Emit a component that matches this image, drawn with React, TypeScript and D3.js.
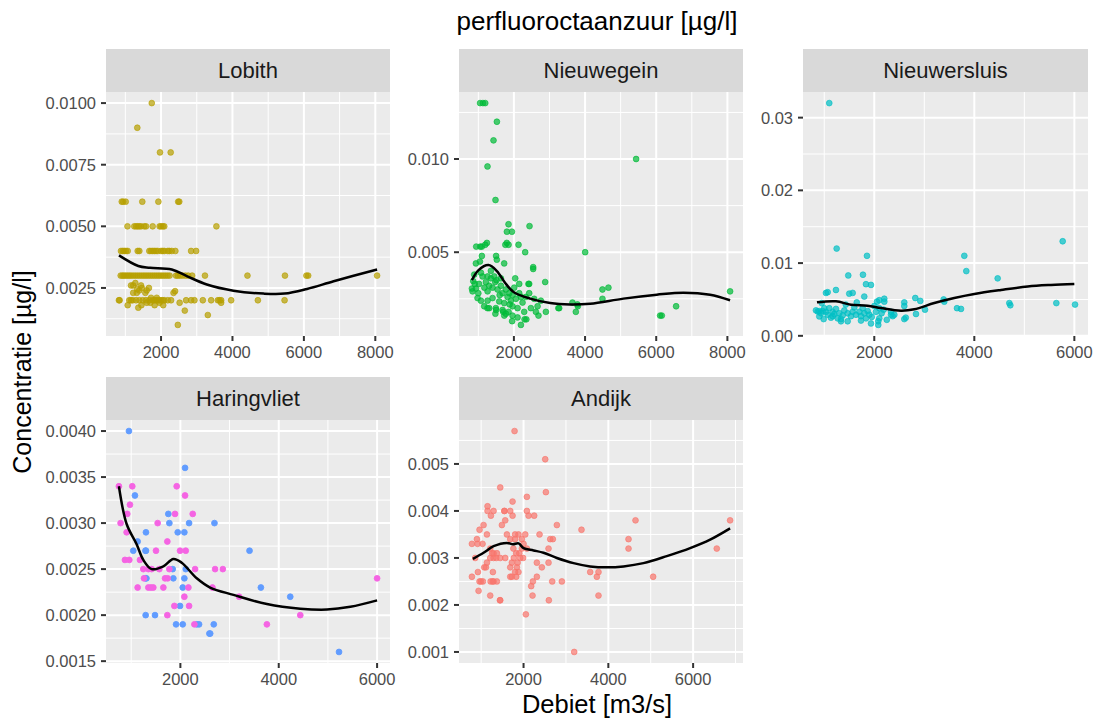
import React from 'react';
import * as d3 from 'd3';

const W = 1094;
const H = 720;
const FONT = '"Liberation Sans", Arial, Helvetica, sans-serif';

const chartTitle = 'perfluoroctaanzuur [µg/l]';
const xAxisTitle = 'Debiet [m3/s]';
const yAxisTitle = 'Concentratie [µg/l]';

const stationNames = ['Lobith', 'Nieuwegein', 'Nieuwersluis', 'Haringvliet', 'Andijk'];

// ---------- data: [debiet m3/s, concentratie µg/l] ----------
const lobithPoints: [number, number][] = [
  [1740, 0.010], [1335, 0.009], [1970, 0.008], [2270, 0.008],
  [900, 0.006], [940, 0.006], [1010, 0.006], [1475, 0.006], [1925, 0.006], [2480, 0.006], [2510, 0.006],
  [1060, 0.005], [1250, 0.005], [1300, 0.005], [1345, 0.005], [1390, 0.005], [1440, 0.005], [1530, 0.005],
  [1580, 0.005], [1765, 0.005], [1960, 0.005], [2000, 0.005], [2050, 0.005], [2090, 0.005], [3550, 0.005],
  [878, 0.004], [926, 0.004], [971, 0.004], [1018, 0.004], [1066, 0.004], [1346, 0.004], [1392, 0.004],
  [1672, 0.004], [1719, 0.004], [1767, 0.004], [1813, 0.004], [1860, 0.004], [1908, 0.004], [2000, 0.004],
  [2047, 0.004], [2093, 0.004], [2188, 0.004], [2233, 0.004], [2300, 0.004], [2401, 0.004], [2842, 0.004], [2982, 0.004],
  [870, 0.003], [920, 0.003], [960, 0.003], [1010, 0.003], [1060, 0.003], [1110, 0.003], [1160, 0.003],
  [1220, 0.003], [1280, 0.003], [1340, 0.003], [1400, 0.003], [1460, 0.003], [1520, 0.003], [1580, 0.003],
  [1640, 0.003], [1700, 0.003], [1760, 0.003], [1820, 0.003], [1880, 0.003], [1940, 0.003], [2000, 0.003],
  [2060, 0.003], [2120, 0.003], [2180, 0.003], [2240, 0.003], [2420, 0.003], [2470, 0.003], [2530, 0.003],
  [2600, 0.003], [2680, 0.003], [2760, 0.003], [2870, 0.003], [3230, 0.003], [4420, 0.003], [5470, 0.003],
  [6070, 0.003], [6120, 0.003], [8050, 0.003],
  [1160, 0.0026], [1220, 0.0026], [1280, 0.0027], [1335, 0.00245], [1390, 0.0024], [1440, 0.0026],
  [1460, 0.0025], [1560, 0.0023], [1600, 0.0024], [1660, 0.0025], [1220, 0.0023], [1320, 0.0023],
  [820, 0.002], [840, 0.002], [1111, 0.002], [1158, 0.002], [1206, 0.002], [1299, 0.002], [1392, 0.002],
  [1487, 0.002], [1579, 0.002], [1672, 0.002], [1767, 0.002], [1813, 0.002], [1860, 0.002], [1908, 0.002],
  [1952, 0.002], [2000, 0.002], [2047, 0.002], [2093, 0.002], [2188, 0.002], [2281, 0.002], [2702, 0.002],
  [2842, 0.002], [2935, 0.002], [3170, 0.002], [3403, 0.002], [3591, 0.002], [3637, 0.002], [3683, 0.002],
  [3963, 0.002], [4712, 0.002], [5459, 0.002],
  [1066, 0.0018], [1363, 0.0017], [1450, 0.0018], [1600, 0.0019], [1700, 0.0019], [1820, 0.0018],
  [1960, 0.0019], [2060, 0.0018], [2393, 0.00237], [2350, 0.0023], [2520, 0.0019], [2665, 0.00158],
  [3310, 0.0014], [2470, 0.001], [3683, 0.0019], [1720, 0.0021], [1880, 0.0021],
];
const lobithSmooth: [number, number][] = [
  [822, 0.00382], [1363, 0.00339], [1691, 0.00332], [2300, 0.00325], [2721, 0.00298], [3282, 0.00264],
  [4028, 0.00239], [4870, 0.00227], [5459, 0.00227], [6087, 0.00246], [6833, 0.00277], [8050, 0.00325],
];

const nieuwegeinPoints: [number, number][] = [
  [1050, 0.013], [1130, 0.013], [1195, 0.013], [1522, 0.012], [1427, 0.011], [1258, 0.0096], [1483, 0.0078],
  [5435, 0.010], [4003, 0.005], [8076, 0.0029], [6110, 0.0016], [6157, 0.0016], [6559, 0.0021],
  [4489, 0.003], [4657, 0.0031], [4489, 0.0025], [3646, 0.0023], [3797, 0.0021], [3741, 0.0018],
  [2879, 0.0034], [2439, 0.0064], [2317, 0.005], [2130, 0.0054], [1849, 0.0065], [1944, 0.0061],
  [1803, 0.0061], [1760, 0.0054], [1800, 0.0055], [1850, 0.0054], [1242, 0.0055], [1194, 0.0054],
  [941, 0.0053], [1053, 0.0053], [1100, 0.0053], [1500, 0.0048], [1520, 0.0046], [1100, 0.0048],
  [932, 0.0044], [1045, 0.0045], [1727, 0.0044], [2542, 0.0042], [2542, 0.0041], [2410, 0.0033],
  [2430, 0.0033], [2037, 0.0036], [2150, 0.0033], [3273, 0.0020], [3250, 0.0020], [3786, 0.0022],
  [2618, 0.0018], [2691, 0.0016], [2899, 0.0018], [2197, 0.0011], [1950, 0.0013], [2300, 0.0014],
  [2350, 0.0014], [1500, 0.0019], [1480, 0.0017], [1730, 0.0016], [1700, 0.0018], [1258, 0.0020],
  [885, 0.0038], [857, 0.00345], [820, 0.00305], [932, 0.00305], [838, 0.0029], [978, 0.00254],
  [1020, 0.0033], [1120, 0.0037], [1170, 0.0031], [1213, 0.0034], [1260, 0.0029], [1306, 0.0032],
  [1353, 0.0036], [1400, 0.0031], [1400, 0.00254], [1475, 0.0034], [1541, 0.003], [1588, 0.00236],
  [1635, 0.0032], [1682, 0.0028], [1729, 0.00227], [1775, 0.003], [1822, 0.0026], [1869, 0.0028],
  [1916, 0.0024], [1962, 0.0027], [1962, 0.0021], [2009, 0.0031], [2056, 0.0025], [2103, 0.002],
  [2150, 0.0028], [2243, 0.0023], [2290, 0.0018], [2337, 0.0026], [2430, 0.0028], [2477, 0.002],
  [2571, 0.0025], [2665, 0.0021], [2758, 0.0024], [1073, 0.0024], [1166, 0.0021], [1260, 0.0024],
  [1493, 0.002], [1306, 0.002], [1850, 0.0018], [1682, 0.0019], [1962, 0.0016], [1775, 0.0017],
  [2103, 0.0015], [1353, 0.004], [1447, 0.0037], [1260, 0.0037], [1073, 0.0039], [1510, 0.0035],
  [1635, 0.0036], [900, 0.0033], [1000, 0.0028], [1880, 0.0022], [2200, 0.0026], [1600, 0.0027],
];
const nieuwegeinSmooth: [number, number][] = [
  [820, 0.0035], [1006, 0.00404], [1287, 0.00431], [1522, 0.00399], [1756, 0.00335], [1990, 0.00287],
  [2458, 0.00251], [3020, 0.00227], [3581, 0.0022], [4143, 0.00224], [5079, 0.00251], [6017, 0.00272],
  [6764, 0.00283], [7514, 0.00272], [8076, 0.00242],
];

const nieuwersluisPoints: [number, number][] = [
  [1100, 0.032], [1248, 0.012], [1854, 0.011], [3800, 0.011], [3840, 0.0089], [5767, 0.013], [4467, 0.0079],
  [1480, 0.0083], [1774, 0.0084], [1834, 0.0071], [1934, 0.007], [4700, 0.0045], [4720, 0.0042],
  [5640, 0.0045], [6014, 0.0043], [3654, 0.0038], [3734, 0.0037], [3387, 0.005], [3400, 0.0047],
  [2820, 0.0052], [2920, 0.0048], [3014, 0.0036], [2834, 0.003], [2600, 0.0046], [2600, 0.0041],
  [2600, 0.0023], [2630, 0.0025], [2334, 0.0029], [2368, 0.0027], [2100, 0.0024], [2080, 0.002],
  [2080, 0.0015], [2200, 0.0051], [2100, 0.0049], [2054, 0.0047], [1034, 0.0059], [1068, 0.006],
  [1234, 0.0063], [1500, 0.0058], [1568, 0.0059], [1800, 0.0054], [1468, 0.002], [1334, 0.0023],
  [1168, 0.0027], [988, 0.0023], [900, 0.0034], [834, 0.0035], [868, 0.00336], [901, 0.00267],
  [934, 0.0031], [968, 0.0034], [1000, 0.0038], [1034, 0.0033], [1068, 0.0029], [1101, 0.0038],
  [1134, 0.0025], [1168, 0.0033], [1200, 0.003], [1234, 0.0037], [1268, 0.0024], [1301, 0.0031],
  [1368, 0.0028], [1401, 0.0035], [1468, 0.0031], [1534, 0.0027], [1568, 0.0033], [1601, 0.0039],
  [1634, 0.0029], [1701, 0.0033], [1734, 0.0027], [1768, 0.0038], [1801, 0.0031], [1834, 0.0024],
  [1868, 0.0034], [1901, 0.0029], [2001, 0.0041], [2034, 0.0033], [2101, 0.0038], [2147, 0.0031],
  [2187, 0.0036], [2334, 0.0033], [2401, 0.0029], [1734, 0.0021], [1934, 0.0017], [1334, 0.002],
  [2201, 0.0047], [1950, 0.0026], [2250, 0.0022], [1430, 0.0043], [1650, 0.0046], [950, 0.0045],
];
const nieuwersluisSmooth: [number, number][] = [
  [854, 0.0046], [1234, 0.00474], [1534, 0.00428], [1866, 0.00415], [2134, 0.00382], [2534, 0.00345],
  [2800, 0.00364], [3200, 0.00451], [3600, 0.0052], [4000, 0.00575], [4534, 0.0063], [5068, 0.00678],
  [5534, 0.007], [6000, 0.00714],
];

const haringvlietBluePoints: [number, number][] = [
  [954, 0.004], [2095, 0.0036], [1076, 0.0033], [1755, 0.0031], [1776, 0.003], [1946, 0.0029],
  [2081, 0.0029], [2177, 0.003], [2693, 0.003], [1300, 0.0029], [1131, 0.0028], [1042, 0.0027],
  [1290, 0.0027], [1300, 0.0027], [3406, 0.0027], [1290, 0.0024], [1310, 0.0024], [1844, 0.0025],
  [1857, 0.0024], [2081, 0.0024], [2109, 0.0025], [2048, 0.0023], [3637, 0.0023], [4234, 0.0022],
  [1993, 0.0021], [1294, 0.002], [1484, 0.002], [1912, 0.0019], [2048, 0.0019], [2333, 0.0019],
  [2380, 0.0019], [2679, 0.0019], [2590, 0.0018], [2606, 0.0018], [5226, 0.0016],
];
const haringvlietPinkPoints: [number, number][] = [
  [750, 0.0034], [1022, 0.0034], [975, 0.0032], [920, 0.0031], [784, 0.003], [907, 0.0029], [873, 0.0026],
  [961, 0.0026], [1178, 0.0026], [1131, 0.0023], [1246, 0.0025], [1348, 0.0025], [1416, 0.0025],
  [1348, 0.0023], [1400, 0.0023], [1450, 0.0023], [1260, 0.0024], [1504, 0.0027], [1538, 0.003],
  [1735, 0.0028], [1572, 0.0025], [1688, 0.0024], [1742, 0.0024], [1654, 0.0023], [1735, 0.002],
  [1776, 0.0025], [1891, 0.0031], [1925, 0.0034], [1993, 0.0027], [2109, 0.0027], [2095, 0.0033],
  [1878, 0.0021], [2081, 0.0022], [2163, 0.0023], [2177, 0.0021], [2251, 0.0031], [2299, 0.0025],
  [2285, 0.0019], [2652, 0.0023], [2706, 0.0025], [2863, 0.0025], [3195, 0.0022], [3759, 0.0019],
  [4438, 0.002], [6000, 0.0024],
];
const haringvlietSmooth: [number, number][] = [
  [750, 0.0034], [907, 0.00299], [1110, 0.00277], [1246, 0.0026], [1416, 0.0025], [1654, 0.00253],
  [1857, 0.00261], [2027, 0.00257], [2333, 0.0024], [2605, 0.0023], [3080, 0.00222], [3759, 0.00212],
  [4438, 0.00207], [4982, 0.00206], [5457, 0.00209], [6000, 0.00216],
];

const andijkPoints: [number, number][] = [
  [1788, 0.0057], [2511, 0.0051], [2527, 0.0044], [1450, 0.0045], [1741, 0.0042], [2079, 0.0043],
  [1151, 0.0041], [1151, 0.004], [1293, 0.004], [1230, 0.0039], [1552, 0.004], [1686, 0.004],
  [1741, 0.0039], [2079, 0.004], [2118, 0.0039], [2251, 0.0039], [1568, 0.0038], [1489, 0.0037],
  [1057, 0.0037], [962, 0.0036], [2786, 0.0037], [3367, 0.0036], [4641, 0.0038], [6872, 0.0038],
  [4476, 0.0034], [4476, 0.0032], [6558, 0.0032], [5057, 0.0026], [3572, 0.0027], [3729, 0.0026],
  [3768, 0.0027], [3768, 0.0022], [3195, 0.001], [2055, 0.0018], [1450, 0.0021], [2597, 0.0021],
  [2212, 0.0022], [1214, 0.0022], [939, 0.0023], [782, 0.0026], [923, 0.0027], [962, 0.0025],
  [1041, 0.0025], [1277, 0.0027], [1293, 0.0025], [1371, 0.0025], [1686, 0.0026], [1827, 0.0026],
  [2180, 0.0024], [2220, 0.0025], [2314, 0.0026], [2676, 0.0025], [2904, 0.0025], [2314, 0.0029],
  [2432, 0.0028], [2589, 0.0029], [2589, 0.0032], [2629, 0.0034], [2691, 0.0034], [2377, 0.0035],
  [1073, 0.0028], [1136, 0.0029], [860, 0.003], [782, 0.0033], [900, 0.0034], [915, 0.0033],
  [1033, 0.0033], [1136, 0.0035], [1214, 0.003], [1260, 0.0031], [1293, 0.003], [1356, 0.003],
  [1450, 0.003], [1568, 0.003], [1214, 0.0032], [1293, 0.0031], [1371, 0.0031], [1608, 0.0035],
  [1686, 0.0034], [1800, 0.0035], [1800, 0.0034], [1760, 0.0032], [1827, 0.0031], [1725, 0.0029],
  [1686, 0.0028], [1725, 0.0026], [1880, 0.0035], [1960, 0.0034], [2040, 0.0035], [1960, 0.0032],
  [1920, 0.003], [1860, 0.0029], [1843, 0.0028], [1880, 0.0027], [1800, 0.0027], [2000, 0.0033],
  [2079, 0.0032], [1770, 0.003], [1900, 0.0031], [1990, 0.003], [1113, 0.0028], [995, 0.0025],
  [1223, 0.0025], [1270, 0.0025], [1545, 0.004], [1443, 0.0021],
];
const andijkSmooth: [number, number][] = [
  [805, 0.00298], [1057, 0.00311], [1293, 0.00325], [1607, 0.00332], [1749, 0.00329], [1882, 0.00331],
  [2000, 0.00321], [2236, 0.00316], [2471, 0.00311], [2786, 0.003], [3179, 0.00289], [3572, 0.00282],
  [3965, 0.0028], [4358, 0.00282], [4829, 0.00289], [5380, 0.00304], [5930, 0.00321], [6401, 0.00339],
  [6872, 0.00363],
];

// tick values
const xTicksWide = [2000, 4000, 6000, 8000];
const xTicksNarrow = [2000, 4000, 6000];
const lobithYTicks = [0.0025, 0.005, 0.0075, 0.01];
const nieuwegeinYTicks = [0.005, 0.01];
const nieuwersluisYTicks = [0, 0.01, 0.02, 0.03];
const haringvlietYTicks = [0.0015, 0.002, 0.0025, 0.003, 0.0035, 0.004];
const andijkYTicks = [0.001, 0.002, 0.003, 0.004, 0.005];

const colors = {
  lobith: '#B79F00',
  nieuwegein: '#00BA38',
  nieuwersluis: '#00BFC4',
  haringBlue: '#619CFF',
  haringPink: '#F564E3',
  andijk: '#F8766D',
};

type Series = { pts: [number, number][]; color: string; alpha: number };
type PanelDef = {
  name: string;
  series: Series[];
  smooth: [number, number][];
  xTicks: number[];
  yTicks: number[];
  yFmt: (n: number) => string;
  left: number;
  right: number;
  stripTop: number;
  top: number;
  bottom: number;
};

const panels: PanelDef[] = [
  {
    name: stationNames[0], series: [{ pts: lobithPoints, color: colors.lobith, alpha: 0.7 }],
    smooth: lobithSmooth, xTicks: xTicksWide, yTicks: lobithYTicks, yFmt: d3.format('.4f'),
    left: 106, right: 390, stripTop: 49, top: 92, bottom: 336,
  },
  {
    name: stationNames[1], series: [{ pts: nieuwegeinPoints, color: colors.nieuwegein, alpha: 0.7 }],
    smooth: nieuwegeinSmooth, xTicks: xTicksWide, yTicks: nieuwegeinYTicks, yFmt: d3.format('.3f'),
    left: 459, right: 743, stripTop: 49, top: 92, bottom: 336,
  },
  {
    name: stationNames[2], series: [{ pts: nieuwersluisPoints, color: colors.nieuwersluis, alpha: 0.7 }],
    smooth: nieuwersluisSmooth, xTicks: xTicksNarrow, yTicks: nieuwersluisYTicks, yFmt: d3.format('.2f'),
    left: 803, right: 1088, stripTop: 49, top: 92, bottom: 336,
  },
  {
    name: stationNames[3],
    series: [
      { pts: haringvlietBluePoints, color: colors.haringBlue, alpha: 1 },
      { pts: haringvlietPinkPoints, color: colors.haringPink, alpha: 1 },
    ],
    smooth: haringvlietSmooth, xTicks: xTicksNarrow, yTicks: haringvlietYTicks, yFmt: d3.format('.4f'),
    left: 106, right: 390, stripTop: 377, top: 420, bottom: 663,
  },
  {
    name: stationNames[4], series: [{ pts: andijkPoints, color: colors.andijk, alpha: 0.7 }],
    smooth: andijkSmooth, xTicks: xTicksNarrow, yTicks: andijkYTicks, yFmt: d3.format('.3f'),
    left: 459, right: 743, stripTop: 377, top: 420, bottom: 663,
  },
];

function expand(ext: [number, number], f = 0.05): [number, number] {
  const d = ext[1] - ext[0];
  return [ext[0] - d * f, ext[1] + d * f];
}

function minorTicks(major: number[], domain: [number, number]): number[] {
  const step = major.length > 1 ? major[1] - major[0] : 1;
  const out: number[] = [];
  for (let i = -1; i < major.length; i++) {
    const v = major[0] + (i + 0.5) * step;
    if (v > domain[0] && v < domain[1]) out.push(v);
  }
  return out;
}

const Panel: React.FC<{ p: PanelDef }> = ({ p }) => {
  const all = p.series.flatMap((s) => s.pts);
  const xDom = expand(d3.extent(all, (d) => d[0]) as [number, number]);
  const yAll = [...all.map((d) => d[1]), ...p.smooth.map((d) => d[1])];
  const yDom = expand(d3.extent(yAll) as [number, number]);
  const x = d3.scaleLinear().domain(xDom).range([p.left, p.right]);
  const y = d3.scaleLinear().domain(yDom).range([p.bottom, p.top]);
  const xMinor = minorTicks(p.xTicks, xDom);
  const yMinor = minorTicks(p.yTicks, yDom);
  const line = d3
    .line<[number, number]>()
    .x((d) => x(d[0]))
    .y((d) => y(d[1]))
    .curve(d3.curveCatmullRom.alpha(0.5));
  const w = p.right - p.left;
  const tickLen = 5;
  return (
    <g>
      <rect x={p.left} y={p.stripTop} width={w} height={p.top - p.stripTop} fill="#D9D9D9" />
      <text
        x={(p.left + p.right) / 2}
        y={(p.stripTop + p.top) / 2 + 7.8}
        textAnchor="middle"
        fontSize={22}
        fill="#1A1A1A"
        fontFamily={FONT}
      >
        {p.name}
      </text>
      <rect x={p.left} y={p.top} width={w} height={p.bottom - p.top} fill="#EBEBEB" />
      {xMinor.map((v, i) => (
        <line key={'xm' + i} x1={x(v)} x2={x(v)} y1={p.top} y2={p.bottom} stroke="#fff" strokeWidth={1} />
      ))}
      {yMinor.map((v, i) => (
        <line key={'ym' + i} x1={p.left} x2={p.right} y1={y(v)} y2={y(v)} stroke="#fff" strokeWidth={1} />
      ))}
      {p.xTicks.map((v, i) => (
        <line key={'xM' + i} x1={x(v)} x2={x(v)} y1={p.top} y2={p.bottom} stroke="#fff" strokeWidth={2} />
      ))}
      {p.yTicks.map((v, i) => (
        <line key={'yM' + i} x1={p.left} x2={p.right} y1={y(v)} y2={y(v)} stroke="#fff" strokeWidth={2} />
      ))}
      {p.series.map((s, si) => (
        <g key={'s' + si}>
          {s.pts.map((d, i) => (
            <circle
              key={i}
              cx={x(d[0])}
              cy={y(d[1])}
              r={2.9}
              fill={s.color}
              fillOpacity={s.alpha}
              stroke={s.color}
              strokeOpacity={s.alpha}
              strokeWidth={0.9}
            />
          ))}
        </g>
      ))}
      <path d={line(p.smooth) || ''} fill="none" stroke="#000" strokeWidth={2.5} />
      {/* x axis */}
      {p.xTicks.map((v, i) => (
        <g key={'xt' + i}>
          <line x1={x(v)} x2={x(v)} y1={p.bottom} y2={p.bottom + tickLen} stroke="#333333" strokeWidth={2} />
          <text
            x={x(v)}
            y={p.bottom + 22}
            textAnchor="middle"
            fontSize={16.5}
            fill="#4D4D4D"
            fontFamily={FONT}
          >
            {d3.format('d')(v)}
          </text>
        </g>
      ))}
      {/* y axis */}
      {p.yTicks.map((v, i) => (
        <g key={'yt' + i}>
          <line x1={p.left - tickLen} x2={p.left} y1={y(v)} y2={y(v)} stroke="#333333" strokeWidth={2} />
          <text
            x={p.left - tickLen - 5}
            y={y(v) + 6}
            textAnchor="end"
            fontSize={16.5}
            fill="#4D4D4D"
            fontFamily={FONT}
          >
            {p.yFmt(v)}
          </text>
        </g>
      ))}
    </g>
  );
};

export default function App() {
  return (
    <svg
      width={W}
      height={H}
      viewBox={`0 0 ${W} ${H}`}
      style={{ display: 'block', position: 'fixed', left: 0, top: 0, background: '#fff' }}
    >
      <rect x={0} y={0} width={W} height={H} fill="#fff" />
      <text x={597} y={30} textAnchor="middle" fontSize={26} fill="#000" fontFamily={FONT}>
        {chartTitle}
      </text>
      {panels.map((p) => (
        <Panel key={p.name} p={p} />
      ))}
      <text x={597} y={713} textAnchor="middle" fontSize={25.5} fill="#000" fontFamily={FONT}>
        {xAxisTitle}
      </text>
      <text
        transform="translate(31,372) rotate(-90)"
        textAnchor="middle"
        fontSize={25}
        fill="#000"
        fontFamily={FONT}
      >
        {yAxisTitle}
      </text>
    </svg>
  );
}
